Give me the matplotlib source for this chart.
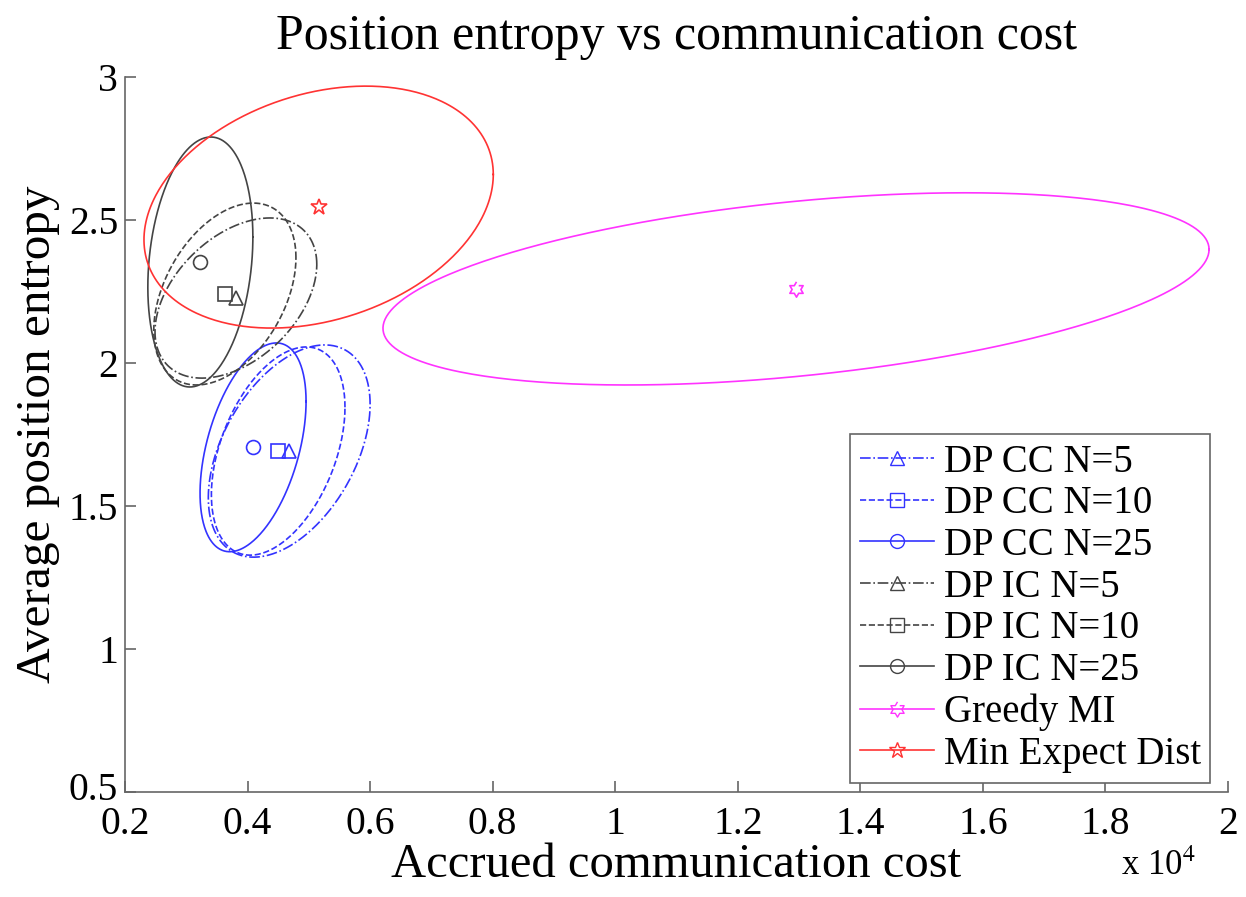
import numpy as np
import matplotlib
matplotlib.use("Agg")
from matplotlib import pyplot as plt
from matplotlib import transforms
from matplotlib.lines import Line2D

plt.rcParams["font.family"] = ["Liberation Serif", "DejaVu Serif"]
plt.rcParams["mathtext.fontset"] = "stix"

# series: name, color, linestyle, marker
labels = ["DP CC N=5", "DP CC N=10", "DP CC N=25",
          "DP IC N=5", "DP IC N=10", "DP IC N=25",
          "Greedy MI", "Min Expect Dist"]
colors = ["#3333ff", "#3333ff", "#3333ff",
          "#444444", "#444444", "#444444",
          "#ff33ff", "#ff3333"]
styles = ["-.", "--", "-", "-.", "--", "-", "-", "-"]
markers = ["^", "s", "o", "^", "s", "o", "hexagram", "*"]

# mean communication cost and mean entropy
mean_cost = [4680, 4500, 4090, 3810, 3630, 3230, 12950, 5160]
mean_ent = [1.692, 1.692, 1.705, 2.227, 2.241, 2.353, 2.259, 2.545]
# spread of the ellipses (cost, entropy) and correlation
sd_cost = [1320, 1090, 865, 1320, 1160, 857, 6740, 2850]
sd_ent = [0.371, 0.364, 0.365, 0.280, 0.318, 0.437, 0.336, 0.423]
rho = [0.44, 0.42, 0.44, 0.42, 0.40, 0.20, 0.41, 0.27]

# six-pointed star marker (matlab 'hexagram')
ang = np.deg2rad(90 + 30 * np.arange(12))
rad = np.where(np.arange(12) % 2 == 0, 1.0, 1 / np.sqrt(3))
hexagram = list(zip(rad * np.cos(ang), rad * np.sin(ang)))


def mk(m):
    if m == "hexagram":
        return hexagram, 11
    if m == "*":
        return "*", 12
    return m, 10


fig = plt.figure(figsize=(12.46, 8.97), dpi=100)
ax = fig.add_axes([0.1003, 0.1171, 0.8853, 0.7971])

t = np.linspace(0, 2 * np.pi, 400)
for i in range(len(labels)):
    mx = mean_cost[i] / 1e4
    sx = sd_cost[i] / 1e4
    ex = mx + sx * np.cos(t)
    ey = mean_ent[i] + sd_ent[i] * (rho[i] * np.cos(t) + np.sqrt(1 - rho[i] ** 2) * np.sin(t))
    ax.plot(ex, ey, color=colors[i], linestyle=styles[i], lw=1.2)
    m, ms = mk(markers[i])
    ax.plot(mx, mean_ent[i], linestyle="none", marker=m, ms=ms,
            mfc="none", mec=colors[i], mew=1.2)

ax.set_xlim(0.2, 2)
ax.set_ylim(0.5, 3)
ax.set_xticks(np.arange(0.2, 2.01, 0.2))
ax.set_xticklabels(["0.2", "0.4", "0.6", "0.8", "1", "1.2", "1.4", "1.6", "1.8", "2"])
ax.set_yticks([0.5, 1, 1.5, 2, 2.5, 3])
ax.set_yticklabels(["0.5", "1", "1.5", "2", "2.5", "3"])
for s in ["top", "right"]:
    ax.spines[s].set_visible(False)
for s in ["left", "bottom"]:
    ax.spines[s].set_color("#666666")
    ax.spines[s].set_linewidth(1.2)
ax.tick_params(direction="in", length=8, width=1.2, color="#666666",
               labelsize=28.5)
ax.tick_params(axis="x", pad=10)
ax.tick_params(axis="y", pad=5)
# lift the lowest y label a few pixels so it clears "0.2"
lab = ax.get_yticklabels()[0]
lab.set_transform(lab.get_transform() + transforms.ScaledTranslation(0, 4 / 72, fig.dpi_scale_trans))

ax.set_title("Position entropy vs communication cost", fontsize=36, pad=20)
ax.set_xlabel("Accrued communication cost", fontsize=35, labelpad=0)
ax.set_ylabel("Average position entropy", fontsize=35.5, labelpad=6)
fig.text(0.900, 0.025, r"x 10$^4$", fontsize=25)

handles = []
for i in range(len(labels)):
    m, ms = mk(markers[i])
    handles.append(Line2D([], [], color=colors[i], linestyle=styles[i], lw=1.2,
                          marker=m, ms=ms, mfc="none", mec=colors[i]))
leg = ax.legend(handles, labels, loc="lower right", bbox_to_anchor=(0.984, 0.013),
                fontsize=28, frameon=True, fancybox=False, framealpha=1,
                edgecolor="#666666", handlelength=1.9, handletextpad=0.25,
                labelspacing=0.12, borderpad=0.25, borderaxespad=0)
leg.get_frame().set_linewidth(1.2)

fig.savefig("out.png", dpi=100)
